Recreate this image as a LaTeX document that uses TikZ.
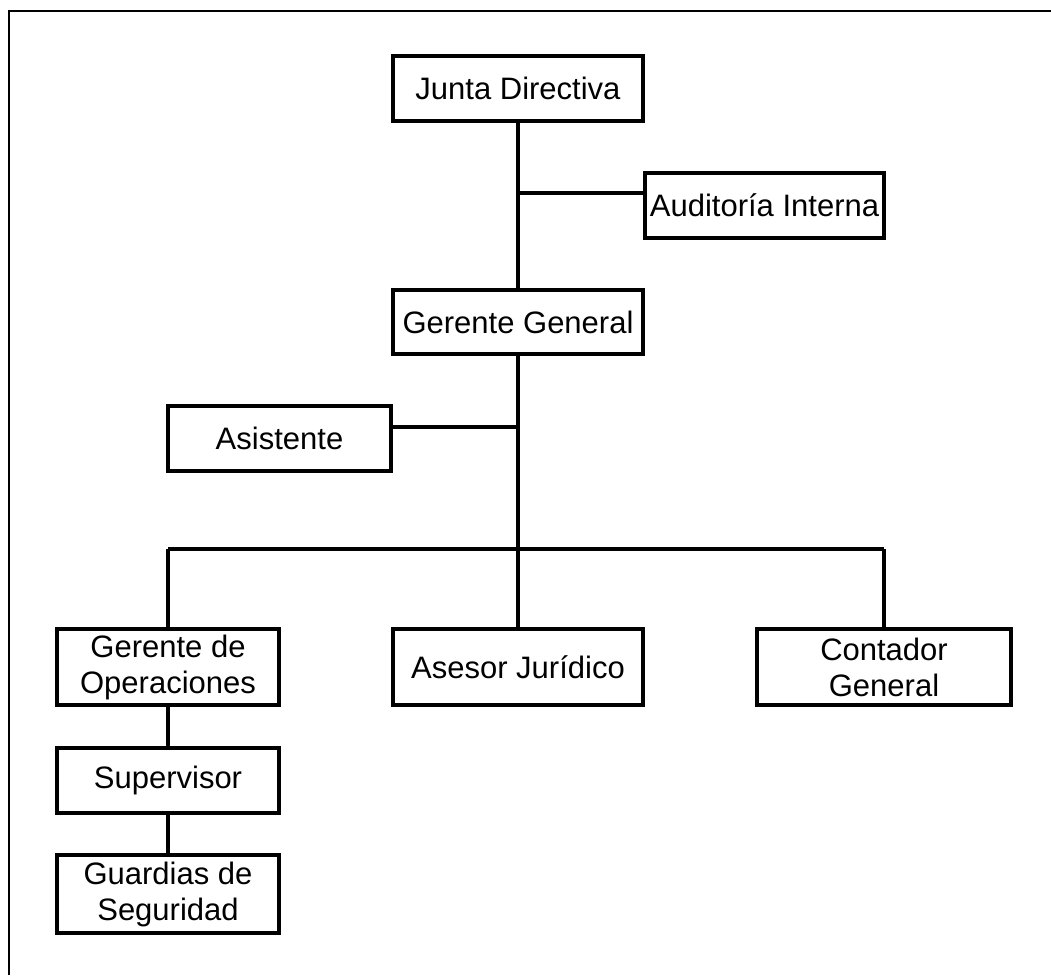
\documentclass[tikz,border=0pt]{standalone}
\usepackage{fontspec}
\setmainfont{Liberation Sans}
\begin{document}
\begin{tikzpicture}[x=1pt,y=-1pt,
  orgbox/.style={draw=black,line width=4pt,fill=white,inner sep=0pt,outer sep=0pt,
    align=center,font=\fontsize{31}{36}\selectfont},
  conn/.style={line width=4pt},
  side/.style={line width=3.2pt},
  frame/.style={line width=2pt}]
\useasboundingbox (0,0) rectangle (1051,975);
% frame (top and left only)
\coordinate (fa) at (9,975);
\coordinate (fb) at (9,11);
\coordinate (fc) at (1060,11);
\draw[frame] (fa) -- (fb) -- (fc);
% junctions
\coordinate (jaud) at (518,193);
\coordinate (jasi) at (518,427);
\coordinate (bus) at (518,549);
\coordinate (busl) at (168,549);
\coordinate (busr) at (884,549);
% connectors (drawn first, boxes on top)
\draw[conn] (518,121) -- (518,290);
\draw[conn] (518,353) -- (518,629);
\draw[conn] (busl) -- (busr);
\draw[conn] (busl) -- (168,629);
\draw[conn] (busr) -- (884,629);
\draw[conn] (168,705) -- (168,748);
\draw[conn] (168,813) -- (168,855);
% boxes
\node[orgbox,minimum width=250pt,minimum height=65pt] (junta) at (518,88.5) {Junta Directiva};
\node[orgbox,minimum width=239pt,minimum height=65pt] (aud) at (764.5,205.5) {Auditoría Interna};
\node[orgbox,minimum width=250pt,minimum height=64pt] (gg) at (518,322) {Gerente General};
\node[orgbox,minimum width=223pt,minimum height=65pt] (asis) at (279.5,438.5) {Asistente};
\node[orgbox,minimum width=222pt,minimum height=76pt] (gop) at (168,667) {Gerente de\\Operaciones};
\node[orgbox,minimum width=250pt,minimum height=76pt] (ases) at (518,667) {Asesor Jurídico};
\node[orgbox,minimum width=254pt,minimum height=76pt] (cont) at (884,667) {Contador\\General};
\node[orgbox,minimum width=222pt,minimum height=65pt] (sup) at (168,780.5) {Supervisor};
\node[orgbox,minimum width=222pt,minimum height=78pt] (guar) at (168,894) {Guardias de\\Seguridad};
% side connectors
\draw[side] (jaud) -- (jaud -| aud.west);
\draw[side] (jasi) -- (jasi -| asis.east);
\end{tikzpicture}
\end{document}
